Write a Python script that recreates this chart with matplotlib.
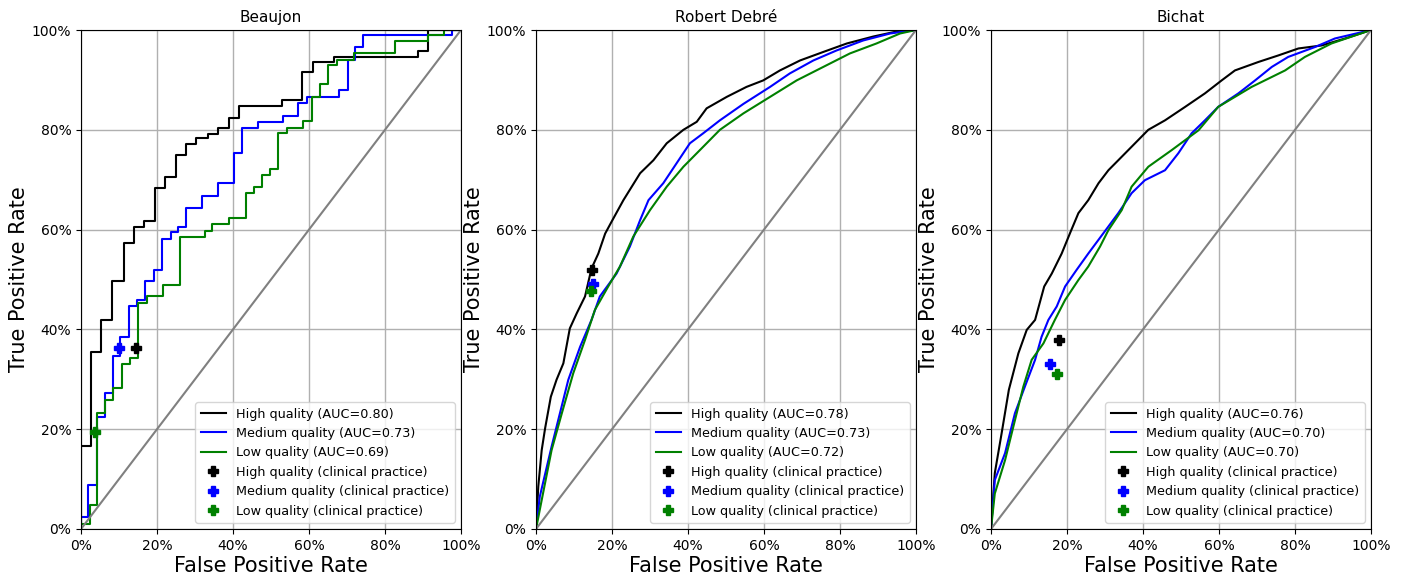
import numpy as np
import matplotlib
matplotlib.use('Agg')
import matplotlib.pyplot as plt
from matplotlib.ticker import PercentFormatter

# Beaujon: step ROC curves (fpr %, tpr %)
bj_high_x = [0, 0, 2.5, 5.3, 8.1, 11.3, 13.9, 16.6, 19.5, 22.1, 25, 27.6, 30.3, 33.3, 36, 38.9, 41.6, 52.8, 58.1, 61, 66.5, 88.8, 91.4, 100]
bj_high_y = [0, 16.7, 35.4, 41.9, 49.7, 57.4, 60.6, 61.8, 68.3, 70.5, 75, 77.1, 78.3, 79.2, 80.4, 82.4, 84.7, 85.9, 91.5, 93.5, 94.6, 95.8, 100, 100]
bj_med_x = [0, 0, 1.9, 4.2, 6.3, 8.5, 10.3, 12.6, 14.8, 16.8, 19.1, 21.2, 23.6, 25.4, 27.6, 31.8, 36.1, 40.3, 42.3, 46.7, 53.1, 57, 59.4, 68, 70.2, 72.1, 74.3, 97.7, 100]
bj_med_y = [0, 2.5, 8.8, 22.5, 27.2, 34.7, 38.4, 44.6, 45.9, 49.6, 52, 58.1, 59.5, 60.6, 64.3, 66.8, 69.3, 75.4, 80.4, 81.6, 82.8, 85.3, 86.5, 87.9, 94, 96.5, 99, 100, 100]
bj_low_x = [0, 0, 2.4, 4.2, 6.3, 8.5, 10.7, 12.9, 15.1, 17.3, 21.7, 26.1, 32.5, 34.6, 39, 43.4, 45.6, 47.5, 49.7, 51.9, 54.1, 58.5, 60.7, 62.9, 65.1, 67.3, 71.9, 82.5, 91.2, 95.4, 100]
bj_low_y = [0, 1, 4.9, 23.3, 25.9, 28.2, 33, 34.3, 45.2, 46.6, 48.9, 58.6, 59.8, 61.1, 62.3, 67.3, 68.6, 70.9, 72.1, 79.3, 80.4, 81.7, 86.5, 89.1, 92.9, 94, 95.3, 97.8, 99, 100, 100]

# Robert Debré
rd_high_x = [0, 0.6, 1.5, 2.4, 3.9, 5.4, 7.2, 8.9, 10.7, 12.9, 14.6, 16.4, 18.2, 19.9, 23, 27.4, 30.9, 34.4, 38.8, 42.3, 44.9, 50.2, 55.4, 59.8, 64.2, 69.5, 75.6, 81.8, 88.8, 94.9, 100]
rd_high_y = [0, 8.5, 15.8, 20.2, 26.5, 29.9, 33.2, 40.2, 43.2, 46.6, 52.2, 55.2, 59.2, 61.6, 65.9, 71.3, 73.9, 77.3, 80, 81.6, 84.3, 86.6, 88.6, 89.9, 91.9, 93.9, 95.6, 97.3, 98.7, 99.7, 100]
rd_med_x = [0, 1, 4.1, 6.3, 8.5, 11.6, 14.6, 16.8, 21.2, 24.7, 27.4, 29.6, 33.5, 37, 40.5, 44, 48.4, 54.6, 61.6, 66.8, 73, 79.1, 86.1, 93.2, 100]
rd_med_y = [0, 6.5, 16.5, 23.2, 29.9, 36.5, 41.9, 46.6, 51.2, 56.6, 61.9, 65.9, 69.3, 73.3, 77.3, 79.3, 81.9, 85.2, 88.6, 91.3, 93.9, 95.9, 97.9, 99.3, 100]
rd_low_x = [0, 1.5, 4.1, 6.8, 9.8, 12.9, 15.5, 19, 22.1, 25.6, 30, 34.4, 38.8, 44, 48.4, 54.6, 61.6, 68.6, 75.6, 82.6, 89.6, 95.8, 100]
rd_low_y = [0, 5.8, 15.8, 23.2, 31.2, 37.9, 43.9, 48.6, 52.6, 58.6, 63.9, 68.6, 72.6, 76.6, 80, 83.3, 86.6, 89.9, 92.6, 95.3, 97.3, 99.3, 100]

# Bichat
bc_high_x = [0, 1, 2.8, 4.7, 7.2, 9.4, 11.6, 14, 16, 18.6, 20.8, 23, 25.6, 28.3, 30.9, 33.5, 37, 41.4, 45.8, 51.1, 56.3, 60.7, 64.2, 70.4, 75.6, 80.9, 87, 93.2, 100]
bc_high_y = [0, 11.2, 19.2, 27.9, 35.2, 39.9, 41.9, 48.6, 51.2, 55.2, 59.3, 63.3, 65.9, 69.3, 71.9, 73.9, 76.6, 80, 81.9, 84.6, 87.3, 89.9, 91.9, 93.6, 94.9, 96.3, 96.9, 98.3, 100]
bc_med_x = [0, 1, 3.7, 6.3, 8.9, 11.6, 13.3, 15.1, 17.3, 19.5, 22.5, 25.6, 29.6, 33.5, 37, 40.5, 45.8, 49.3, 52.8, 56.3, 59.8, 65.1, 69.5, 73.9, 78.2, 85.3, 90.5, 100]
bc_med_y = [0, 9.8, 15.2, 23.2, 28.5, 33.9, 38.5, 41.9, 44.6, 48.6, 51.9, 55.2, 59.3, 63.3, 67.3, 69.9, 71.9, 75.3, 79.3, 81.9, 84.6, 87.3, 89.9, 92.6, 94.6, 96.6, 98.3, 100]
bc_low_x = [0, 1, 3.7, 6.3, 8.5, 10.7, 13.8, 16.8, 19.5, 23, 25.6, 28.7, 30.9, 34.4, 37, 41.4, 47.5, 54.6, 59.8, 68.6, 77.4, 82.6, 89.6, 100]
bc_low_y = [0, 7.1, 13.8, 21.8, 28.5, 33.9, 37.2, 41.9, 45.9, 49.9, 52.6, 56.6, 59.9, 63.9, 68.6, 72.6, 75.9, 79.9, 84.6, 88.6, 91.9, 94.6, 97.3, 100]

# clinical practice points (fpr %, tpr %) for high / medium / low
bj_clin_x = [14.4, 10.1, 3.7]
bj_clin_y = [36.2, 36.2, 19.5]
rd_clin_x = [14.8, 15.1, 14.4]
rd_clin_y = [52.0, 49.0, 47.6]
bc_clin_x = [17.9, 15.4, 17.3]
bc_clin_y = [37.9, 33.1, 31.0]

titles = ['Beaujon', 'Robert Debré', 'Bichat']
aucs = [[0.80, 0.73, 0.69], [0.78, 0.73, 0.72], [0.76, 0.70, 0.70]]
quality = ['High quality', 'Medium quality', 'Low quality']
colors = ['black', 'blue', 'green']

panels = [
    ([(bj_high_x, bj_high_y), (bj_med_x, bj_med_y), (bj_low_x, bj_low_y)], bj_clin_x, bj_clin_y, True),
    ([(rd_high_x, rd_high_y), (rd_med_x, rd_med_y), (rd_low_x, rd_low_y)], rd_clin_x, rd_clin_y, False),
    ([(bc_high_x, bc_high_y), (bc_med_x, bc_med_y), (bc_low_x, bc_low_y)], bc_clin_x, bc_clin_y, False),
]

fig = plt.figure(figsize=(14.02, 5.76), dpi=100)
lefts = [81, 536, 991]

for i, (curves, cx, cy, is_step) in enumerate(panels):
    ax = fig.add_axes([lefts[i] / 1402, 47 / 576, 380 / 1402, 499 / 576])
    for (x, y), q, c, a in zip(curves, quality, colors, aucs[i]):
        xs = np.array(x) / 100
        ys = np.array(y) / 100
        if is_step:
            ax.step(xs, ys, where='post', color=c, lw=1.5, label=f'{q} (AUC={a:.2f})')
        else:
            ax.plot(xs, ys, color=c, lw=1.5, label=f'{q} (AUC={a:.2f})')
    ax.plot([0, 1], [0, 1], color='gray', lw=1.5)
    for j in range(3):
        ax.plot(cx[j] / 100, cy[j] / 100, 'P', color=colors[j], ms=6.5, ls='none',
                label=f'{quality[j]} (clinical practice)')
    ax.set_xlim(0, 1)
    ax.set_ylim(0, 1)
    ax.xaxis.set_major_formatter(PercentFormatter(1.0, decimals=0))
    ax.yaxis.set_major_formatter(PercentFormatter(1.0, decimals=0))
    ax.grid(True, color='#b0b0b0', lw=1)
    ax.set_axisbelow(True)
    ax.set_title(titles[i], fontsize=11)
    ax.set_xlabel('False Positive Rate', fontsize=15, labelpad=2)
    ax.set_ylabel('True Positive Rate', fontsize=15, labelpad=2)
    ax.legend(loc='lower right', fontsize=9.2)

plt.savefig('out.png', dpi=100)
